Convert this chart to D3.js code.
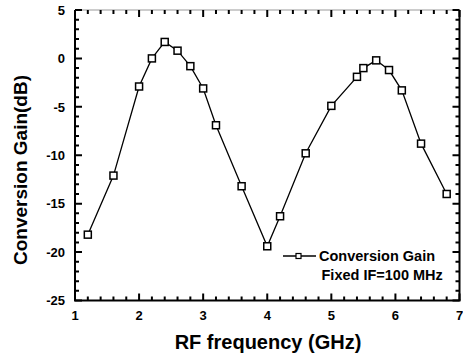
<!DOCTYPE html>
<html>
<head>
<meta charset="utf-8">
<script src="https://cdn.jsdelivr.net/npm/d3@7"></script>
<style>
  body { margin: 0; background: #fff; }
  svg { display: block; font-family: "Liberation Sans", Arial, sans-serif; }
</style>
</head>
<body>
<div id="chart"></div>
<script>
// RF frequency (GHz) vs conversion gain (dB)
const freq = [1.2, 1.6, 2.0, 2.2, 2.4, 2.6, 2.8, 3.0, 3.2, 3.6, 4.0, 4.2, 4.6, 5.0, 5.4, 5.5, 5.7, 5.9, 6.1, 6.4, 6.8];
const gain = [-18.2, -12.1, -2.9, 0.0, 1.7, 0.8, -0.8, -3.1, -6.9, -13.2, -19.4, -16.3, -9.8, -4.9, -1.9, -1.0, -0.2, -1.2, -3.3, -8.8, -14.0];
const xTicks = [1, 2, 3, 4, 5, 6, 7];
const yTicks = [-25, -20, -15, -10, -5, 0, 5];
const legendLines = ["Conversion Gain", "Fixed IF=100 MHz"];

const svgWidth = 463, svgHeight = 359;
const margin = { top: 10, right: 3.5, bottom: 58.5, left: 75 };
const width = svgWidth - margin.left - margin.right;
const height = svgHeight - margin.top - margin.bottom;

const svg = d3.select("#chart").append("svg")
  .attr("width", svgWidth)
  .attr("height", svgHeight);

const g = svg.append("g")
  .attr("transform", `translate(${margin.left},${margin.top})`);

const x = d3.scaleLinear().domain([1, 7]).range([0, width]);
const y = d3.scaleLinear().domain([-25, 5]).range([height, 0]);

const xMinor = d3.range(1, 7.001, 0.2);
const yMinor = d3.range(-25, 5.001, 1);

// frame
g.append("line").attr("x1", 0).attr("x2", width).attr("y1", 0).attr("y2", 0)
  .attr("stroke", "#999").attr("stroke-width", 1);
g.append("line").attr("x1", -1).attr("x2", width + 1).attr("y1", height).attr("y2", height)
  .attr("stroke", "#000").attr("stroke-width", 2);
g.append("line").attr("x1", 0).attr("x2", 0).attr("y1", 0).attr("y2", height)
  .attr("stroke", "#000").attr("stroke-width", 2);
g.append("line").attr("x1", width).attr("x2", width).attr("y1", 0).attr("y2", height)
  .attr("stroke", "#000").attr("stroke-width", 2);

// inward ticks on all four sides
function xTickPath(vals, len) {
  return vals.map(d => `M${x(d)},${height}V${height - len}M${x(d)},0V${len}`).join("");
}
function yTickPath(vals, len) {
  return vals.map(d => `M0,${y(d)}H${len}M${width},${y(d)}H${width - len}`).join("");
}
g.append("path")
  .attr("d", xTickPath(xMinor, 4) + xTickPath(xTicks, 7) + yTickPath(yMinor, 4) + yTickPath(yTicks, 7))
  .attr("fill", "none")
  .attr("stroke", "#000")
  .attr("stroke-width", 2);

// tick labels
g.selectAll(".xl").data(xTicks).enter().append("text")
  .attr("x", d => x(d)).attr("y", height + 19.5)
  .attr("text-anchor", "middle")
  .attr("font-size", 13).attr("font-weight", "bold")
  .text(d => d);

g.selectAll(".yl").data(yTicks).enter().append("text")
  .attr("x", -10).attr("y", d => y(d)).attr("dy", "0.36em")
  .attr("text-anchor", "end")
  .attr("font-size", 13).attr("font-weight", "bold")
  .text(d => d);

// axis titles
svg.append("text")
  .attr("x", 268).attr("y", 349)
  .attr("text-anchor", "middle")
  .attr("font-size", 20).attr("font-weight", "bold")
  .text("RF frequency (GHz)");

svg.append("text")
  .attr("transform", "translate(27,170) rotate(-90)")
  .attr("text-anchor", "middle")
  .attr("font-size", 19).attr("font-weight", "bold")
  .text("Conversion Gain(dB)");

// series
const pts = freq.map((f, i) => [f, gain[i]]);
g.append("path")
  .datum(pts)
  .attr("fill", "none")
  .attr("stroke", "#000")
  .attr("stroke-width", 1.3)
  .attr("d", d3.line().x(d => x(d[0])).y(d => y(d[1])));

g.selectAll(".pt").data(pts).enter().append("rect")
  .attr("x", d => x(d[0]) - 3.5).attr("y", d => y(d[1]) - 3.5)
  .attr("width", 7).attr("height", 7)
  .attr("fill", "#fff").attr("stroke", "#000").attr("stroke-width", 1.5);

// legend
const lg = svg.append("g").attr("transform", "translate(283,256)");
lg.append("line").attr("x1", 0).attr("x2", 33).attr("y1", 0).attr("y2", 0)
  .attr("stroke", "#000").attr("stroke-width", 1.3);
lg.append("rect").attr("x", 13).attr("y", -2.5).attr("width", 5).attr("height", 5)
  .attr("fill", "#fff").attr("stroke", "#000").attr("stroke-width", 1.2);
lg.append("text").attr("x", 36).attr("y", 5)
  .attr("font-size", 14.5).attr("font-weight", "bold")
  .text(legendLines[0]);
lg.append("text").attr("x", 38.5).attr("y", 24)
  .attr("font-size", 14.5).attr("font-weight", "bold")
  .text(legendLines[1]);
</script>
</body>
</html>
